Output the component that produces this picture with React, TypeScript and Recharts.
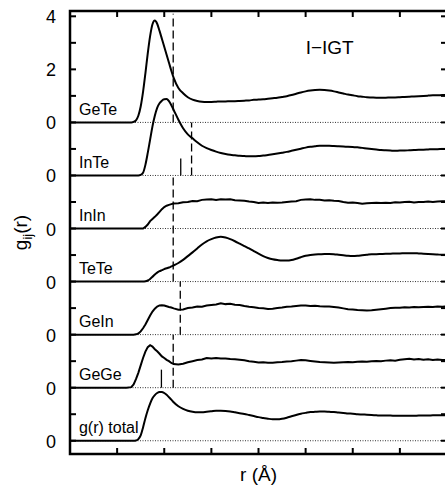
import { LineChart, Line, XAxis, YAxis, ReferenceLine, ReferenceDot } from 'recharts';

// r grid (Å) shared by all partials
const rGrid = [
  1.0, 2.0, 2.2, 2.3, 2.35, 2.4, 2.45, 2.5, 2.55, 2.6, 2.65, 2.7, 2.75, 2.8, 2.85, 2.9, 2.95, 3.0, 3.05, 3.1, 3.15, 3.2,
  3.3, 3.4, 3.5, 3.6, 3.7, 3.8, 3.9, 4.0, 4.1, 4.2, 4.3, 4.4, 4.5, 4.6, 4.7, 4.8, 4.9, 5.0,
  5.1, 5.2, 5.3, 5.4, 5.5, 5.6, 5.7, 5.8, 5.9, 6.0, 6.1, 6.2, 6.3, 6.4, 6.5, 6.6, 6.7, 6.8, 6.9, 7.0,
  7.1, 7.2, 7.3, 7.4, 7.5, 7.6, 7.7, 7.8, 7.9, 8.0, 8.1, 8.2, 8.3, 8.4, 8.5, 8.6, 8.7, 8.8, 8.9, 9.0,
];

const geTe = [
  0, 0, 0, 0, 0.02, 0.08, 0.25, 0.6, 1.15, 1.85, 2.6, 3.25, 3.7, 3.84, 3.72, 3.45, 3.15, 2.85, 2.55, 2.25, 1.95, 1.68,
  1.3, 1.1, 0.95, 0.86, 0.81, 0.78, 0.77, 0.77, 0.78, 0.79, 0.79, 0.8, 0.8, 0.81, 0.82, 0.83, 0.85, 0.86,
  0.87, 0.89, 0.91, 0.93, 0.96, 0.99, 1.03, 1.08, 1.13, 1.17, 1.2, 1.22, 1.23, 1.22, 1.2, 1.17, 1.13, 1.09, 1.05, 1.02,
  0.99, 0.97, 0.95, 0.94, 0.93, 0.93, 0.93, 0.94, 0.94, 0.95, 0.96, 0.97, 0.98, 0.99, 1.0, 1.01, 1.02, 1.02, 1.03, 1.03,
];
const inTe = [
  0, 0, 0, 0, 0, 0, 0, 0.02, 0.1, 0.4, 0.85, 1.35, 1.85, 2.25, 2.55, 2.72, 2.82, 2.87, 2.88, 2.8, 2.65, 2.47,
  2.1, 1.78, 1.55, 1.4, 1.25, 1.12, 1.03, 0.96, 0.9, 0.85, 0.81, 0.78, 0.76, 0.74, 0.73, 0.72, 0.72, 0.73,
  0.75, 0.77, 0.8, 0.83, 0.86, 0.89, 0.93, 0.97, 1.01, 1.05, 1.08, 1.1, 1.12, 1.12, 1.12, 1.11, 1.1, 1.09, 1.08, 1.07,
  1.06, 1.04, 1.02, 1.0, 0.98, 0.96, 0.95, 0.94, 0.93, 0.94, 0.94, 0.95, 0.96, 0.97, 0.97, 0.98, 0.99, 0.99, 1.0, 1.0,
];
const inIn = [
  0, 0, 0, 0, 0, 0, 0, 0, 0, 0.06, 0.15, 0.28, 0.36, 0.44, 0.53, 0.63, 0.73, 0.81, 0.86, 0.89, 0.92, 0.94,
  0.95, 0.99, 1.0, 1.04, 1.03, 1.08, 1.09, 1.1, 1.08, 1.1, 1.09, 1.1, 1.07, 1.06, 1.05, 1.02, 1.0, 0.96,
  0.98, 0.96, 0.98, 0.97, 0.98, 1.0, 1.02, 1.03, 1.08, 1.09, 1.1, 1.08, 1.08, 1.06, 1.07, 1.05, 1.04, 1.0, 0.97, 0.98,
  0.96, 0.93, 0.95, 0.96, 0.97, 0.96, 0.97, 0.96, 0.99, 0.98, 1.0, 1.01, 0.98, 1.0, 1.0, 1.02, 1.0, 1.02, 1.03, 1.03,
];
const teTe = [
  0, 0, 0, 0, 0, 0, 0, 0, 0, 0.01, 0.04, 0.1, 0.18, 0.27, 0.34, 0.39, 0.43, 0.47, 0.5, 0.53, 0.57, 0.61,
  0.7, 0.82, 0.96, 1.1, 1.25, 1.4, 1.52, 1.6, 1.66, 1.69, 1.66, 1.6, 1.52, 1.43, 1.34, 1.25, 1.15, 1.05,
  0.96, 0.89, 0.84, 0.81, 0.79, 0.79, 0.81, 0.86, 0.92, 0.97, 1.0, 1.02, 1.03, 1.04, 1.04, 1.03, 1.01, 0.99, 0.97, 0.96,
  0.97, 0.99, 1.01, 1.03, 1.03, 1.04, 1.05, 1.05, 1.06, 1.06, 1.07, 1.07, 1.07, 1.06, 1.05, 1.04, 1.03, 1.02, 1.01, 1.01,
];
const geIn = [
  0, 0, 0, 0, 0, 0.01, 0.04, 0.12, 0.24, 0.38, 0.55, 0.72, 0.87, 0.98, 1.06, 1.1, 1.11, 1.1, 1.07, 1.04, 1.02, 0.99,
  0.94, 0.95, 1.0, 1.02, 1.06, 1.05, 1.1, 1.12, 1.14, 1.18, 1.15, 1.16, 1.13, 1.12, 1.08, 1.05, 1.03, 1.0,
  0.99, 0.97, 0.98, 1.0, 1.02, 1.05, 1.06, 1.08, 1.1, 1.1, 1.08, 1.09, 1.07, 1.06, 1.06, 1.04, 1.02, 0.99, 0.96, 0.95,
  0.93, 0.92, 0.91, 0.92, 0.94, 0.96, 0.98, 1.0, 1.01, 1.01, 1.03, 1.02, 1.04, 1.03, 1.04, 1.05, 1.04, 1.06, 1.05, 1.06,
];
const geGe = [
  0, 0, 0, 0.02, 0.12, 0.32, 0.56, 0.84, 1.12, 1.36, 1.53, 1.6, 1.55, 1.45, 1.37, 1.28, 1.18, 1.12, 1.05, 1.0, 0.93, 0.89,
  0.87, 0.9, 0.96, 1.0, 1.04, 1.06, 1.12, 1.1, 1.12, 1.1, 1.1, 1.08, 1.07, 1.05, 1.03, 1.0, 0.98, 0.95,
  0.96, 0.94, 0.94, 0.96, 0.97, 0.99, 1.0, 1.02, 1.04, 1.03, 1.01, 0.99, 0.97, 0.96, 0.95, 0.94, 0.95, 0.96, 0.97, 0.96,
  0.98, 0.99, 0.98, 1.0, 1.01, 1.0, 1.02, 1.03, 1.02, 1.05, 1.07, 1.09, 1.06, 1.08, 1.05, 1.07, 1.04, 1.06, 1.04, 1.04,
];
const gTotal = [
  0, 0, 0, 0, 0, 0.01, 0.06, 0.2, 0.5, 0.85, 1.15, 1.4, 1.6, 1.72, 1.8, 1.84, 1.84, 1.8, 1.73, 1.64, 1.55, 1.45,
  1.3, 1.2, 1.13, 1.09, 1.07, 1.07, 1.09, 1.11, 1.13, 1.13, 1.12, 1.1, 1.07, 1.04, 1.01, 0.97, 0.93, 0.89,
  0.86, 0.83, 0.81, 0.81, 0.83, 0.87, 0.92, 0.97, 1.02, 1.05, 1.08, 1.09, 1.1, 1.1, 1.09, 1.08, 1.06, 1.05, 1.03, 1.02,
  1.0, 0.99, 0.98, 0.97, 0.96, 0.95, 0.95, 0.95, 0.94, 0.94, 0.94, 0.94, 0.94, 0.95, 0.95, 0.95, 0.96, 0.96, 0.96, 0.96,
];

const seriesNames = ['GeTe', 'InTe', 'InIn', 'TeTe', 'GeIn', 'GeGe', 'g(r) total'];
const seriesValues = [geTe, inTe, inIn, teTe, geIn, geGe, gTotal];
const seriesOffsets = [12, 10, 8, 6, 4, 2, 0];
const noisy = [false, false, true, false, true, true, false];

const X_MIN = 1;
const X_MAX = 9;
const Y_MIN = -0.5;
const Y_MAX = 16.2;
const xTicks = [1, 2, 3, 4, 5, 6, 7, 8, 9];
const yTicks = [0, 1, 2, 3, 4, 5, 6, 7, 8, 9, 10, 11, 12, 13, 14, 15, 16];

// cutoff markers: [r, from, to]
const dashedMarks = [
  [3.19, 12, 16.1],
  [3.58, 10, 12],
  [3.19, 6, 10],
  [3.34, 4, 6],
  [3.19, 2, 4],
];
const solidMarks = [
  [3.35, 10, 10.64],
  [2.94, 2, 2.68],
];

const FONT = '"Liberation Sans", Arial, Helvetica, sans-serif';

// chart box and plot area (px)
const W = 450;
const H = 487;
const M = { top: 11, right: 3, bottom: 0, left: 0 };
const Y_AXIS_W = 70;
const X_AXIS_H = 33;
const PLOT = {
  left: M.left + Y_AXIS_W,
  top: M.top,
  right: W - M.right,
  bottom: H - M.bottom - X_AXIS_H,
};
const TICK = 6;

// same linear map as the chart's axes, for the frame overlay
const px = (r: number) => PLOT.left + ((r - X_MIN) / (X_MAX - X_MIN)) * (PLOT.right - PLOT.left);
const py = (v: number) => PLOT.top + ((Y_MAX - v) / (Y_MAX - Y_MIN)) * (PLOT.bottom - PLOT.top);

const data = rGrid.map((r, i) => {
  const row: Record<string, number> = { r };
  seriesNames.forEach((name, k) => {
    row[`s${k}`] = seriesValues[k][i] + seriesOffsets[k];
  });
  return row;
});

// top panel shows 0,2,4; every other panel only its own 0
const yLabelText = (v: number) => {
  if (v % 2 !== 0) return '';
  return v >= 12 ? String(v - 12) : '0';
};

const LeftTick = ({ x, y, payload }: any) => {
  const lab = yLabelText(payload.value);
  if (!lab) return <g />;
  return (
    <text x={x - 14} y={y} dy={7} textAnchor="end" fontSize={18} fontFamily={FONT} fill="#000">
      {lab}
    </text>
  );
};
const NoTick = () => <g />;

const YTitle = (props: any) => {
  const vb = props.viewBox ?? { x: 0, y: 11, width: 70, height: 443 };
  const cx = vb.x + 27;
  const cy = vb.y + vb.height / 2;
  return (
    <text
      x={cx}
      y={cy}
      transform={`rotate(-90, ${cx}, ${cy})`}
      textAnchor="middle"
      fontSize={19}
      fontFamily={FONT}
      fill="#000"
    >
      g<tspan fontSize={13} dy={5}>ij</tspan>
      <tspan dy={-5}>(r)</tspan>
    </text>
  );
};

// box frame with inward ticks on all four sides
function Frame() {
  return (
    <svg
      width={W}
      height={H}
      style={{ position: 'absolute', left: 0, top: 0, pointerEvents: 'none', overflow: 'visible' }}
    >
      <rect
        x={PLOT.left}
        y={PLOT.top}
        width={PLOT.right - PLOT.left}
        height={PLOT.bottom - PLOT.top}
        fill="none"
        stroke="#000"
        strokeWidth={2.5}
      />
      {xTicks.map((t) => (
        <g key={`x${t}`}>
          <line x1={px(t)} y1={PLOT.bottom} x2={px(t)} y2={PLOT.bottom - TICK} stroke="#000" strokeWidth={2} />
          <line x1={px(t)} y1={PLOT.top} x2={px(t)} y2={PLOT.top + TICK} stroke="#000" strokeWidth={2} />
        </g>
      ))}
      {yTicks.map((t) => (
        <g key={`y${t}`}>
          <line x1={PLOT.left} y1={py(t)} x2={PLOT.left + TICK} y2={py(t)} stroke="#000" strokeWidth={2} />
          <line x1={PLOT.right} y1={py(t)} x2={PLOT.right - TICK} y2={py(t)} stroke="#000" strokeWidth={2} />
        </g>
      ))}
    </svg>
  );
}

export default function App() {
  return (
    <div style={{ position: 'absolute', left: 0, top: 0, width: 445, height: 487, overflow: 'hidden', background: '#fff' }}>
      <LineChart width={W} height={H} data={data} margin={M}>
        <XAxis
          dataKey="r"
          type="number"
          domain={[X_MIN, X_MAX]}
          ticks={xTicks}
          interval={0}
          allowDataOverflow
          tickLine={false}
          tick={<NoTick />}
          axisLine={false}
          height={X_AXIS_H}
          label={{ value: 'r (Å)', position: 'insideBottom', offset: 6, fontSize: 19, fill: '#000', fontFamily: FONT }}
        />
        <YAxis
          type="number"
          domain={[Y_MIN, Y_MAX]}
          ticks={yTicks}
          interval={0}
          allowDataOverflow
          tickSize={0}
          tickMargin={0}
          tickLine={false}
          tick={<LeftTick />}
          axisLine={false}
          width={Y_AXIS_W}
          label={{ content: YTitle }}
        />

        {seriesOffsets.map((off) => (
          <ReferenceLine key={`z${off}`} y={off} stroke="#333" strokeWidth={1} strokeDasharray="1 1.5" />
        ))}
        {dashedMarks.map(([r, a, b], i) => (
          <ReferenceLine
            key={`d${i}`}
            segment={[{ x: r, y: a }, { x: r, y: b }]}
            stroke="#000"
            strokeWidth={1.3}
            strokeDasharray="8 4"
          />
        ))}
        {solidMarks.map(([r, a, b], i) => (
          <ReferenceLine key={`m${i}`} segment={[{ x: r, y: a }, { x: r, y: b }]} stroke="#000" strokeWidth={1.3} />
        ))}

        {seriesNames.map((name, k) => (
          <Line
            key={name}
            name={name}
            dataKey={`s${k}`}
            type={noisy[k] ? 'linear' : 'monotone'}
            stroke="#000"
            strokeWidth={2}
            dot={false}
            isAnimationActive={false}
          />
        ))}

        {seriesNames.map((name, k) => (
          <ReferenceDot
            key={`l${k}`}
            x={1.19}
            y={seriesOffsets[k] + 0.28}
            shape={(p: any) => (
              <text x={p.cx} y={p.cy} fontSize={16} fontFamily={FONT} fill="#000">
                {name}
              </text>
            )}
          />
        ))}
        <ReferenceDot
          x={6.0}
          y={14.58}
          shape={(p: any) => (
            <text x={p.cx} y={p.cy} fontSize={19} fontFamily={FONT} fill="#000">
              I−IGT
            </text>
          )}
        />
      </LineChart>
      <Frame />
    </div>
  );
}
